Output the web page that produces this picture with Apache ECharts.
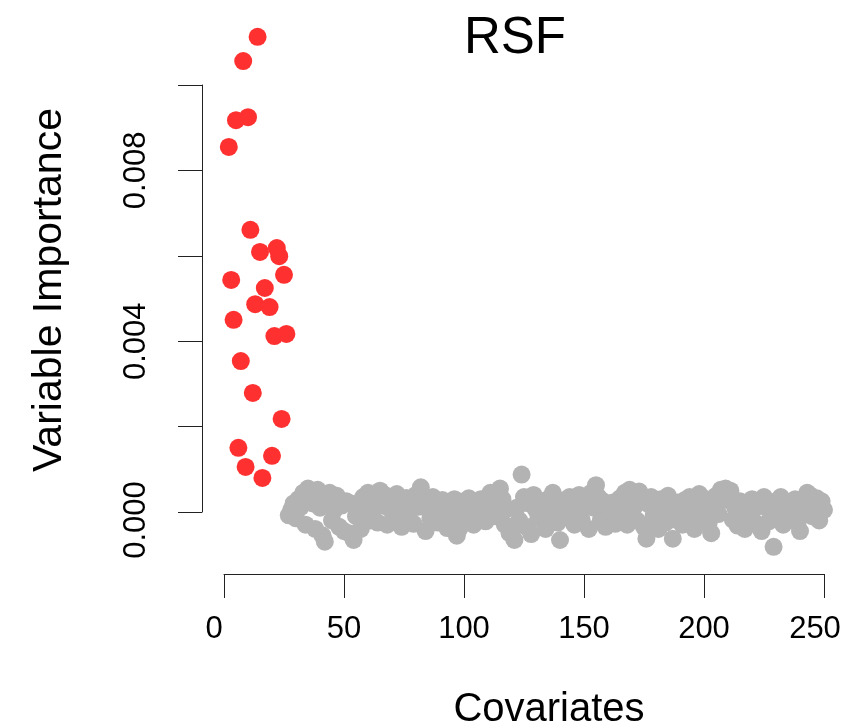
<!DOCTYPE html>
<html>
<head>
<meta charset="utf-8">
<script src="https://cdn.jsdelivr.net/npm/echarts@6/dist/echarts.min.js"></script>
<style>
html,body{margin:0;padding:0;background:#fff;}
#chart{width:846px;height:728px;}
</style>
</head>
<body>
<div id="chart"></div>
<script>
// ---- data ----
const xTicks = [0, 50, 100, 150, 200, 250];
const yTicks = [0, 0.002, 0.004, 0.006, 0.008, 0.010];
const yLabelled = ['0.000', '0.004', '0.008'];

const redX = [2,3,4,5,6,7,8,9,10,11,12,13,14,15,16,17,19,20,21,22,23,24,25,26];
const redY = [0.00859,0.00546,0.00452,0.00922,0.00151,0.00355,0.01061,0.00106,0.00929,0.00664,
              0.00280,0.00489,0.01118,0.00612,0.00080,0.00527,0.00482,0.00132,0.00414,0.00621,
              0.00602,0.00219,0.00558,0.00419];

const grayStart = 27;
const grayY = [
 -0.00008, 0.00005, 0.00020,-0.00015, 0.00030, 0.00012, 0.00045,-0.00030, 0.00055, 0.00050,
  0.00020,-0.00040, 0.00052, 0.00010,-0.00055,-0.00070, 0.00030, 0.00045,-0.00020, 0.00005,
  0.00038,-0.00035, 0.00015,-0.00045, 0.00025,-0.00050, 0.00020,-0.00066,-0.00010, 0.00010,
 -0.00040, 0.00035, 0.00005, 0.00045,-0.00020, 0.00030, 0.00010,-0.00025, 0.00050, 0.00015,
  0.00040,-0.00030, 0.00008, 0.00028,-0.00015, 0.00042, 0.00002,-0.00035, 0.00022, 0.00033,
 -0.00005, 0.00018,-0.00028, 0.00040, 0.00012, 0.00058, 0.00025,-0.00045, 0.00008,-0.00015,
  0.00035, 0.00020,-0.00025, 0.00015, 0.00028,-0.00005,-0.00038, 0.00010,-0.00020, 0.00030,
 -0.00056,-0.00040, 0.00005, 0.00025,-0.00012, 0.00032, 0.00015,-0.00030, 0.00020,-0.00008,
  0.00030, 0.00010,-0.00022, 0.00035, 0.00045, 0.00018,-0.00010, 0.00040, 0.00055, 0.00030,
 -0.00030, 0.00008,-0.00050,-0.00040,-0.00066, 0.00010,-0.00020, 0.00088, 0.00035,-0.00035,
  0.00020,-0.00052, 0.00040, 0.00005,-0.00015, 0.00025, 0.00012,-0.00040, 0.00030,-0.00005,
  0.00045, 0.00018,-0.00025,-0.00066, 0.00010, 0.00028,-0.00012, 0.00035, 0.00020,-0.00030,
  0.00005, 0.00040,-0.00018, 0.00015, 0.00030,-0.00040, 0.00045, 0.00010, 0.00063, 0.00035,
 -0.00020, 0.00025,-0.00035, 0.00008,-0.00010, 0.00022,-0.00028, 0.00015, 0.00032,-0.00005,
  0.00045,-0.00030, 0.00052, 0.00040, 0.00012,-0.00020, 0.00048, 0.00028,-0.00035,-0.00063,
  0.00018, 0.00035,-0.00010, 0.00005,-0.00040, 0.00030, 0.00010,-0.00025, 0.00038, 0.00015,
 -0.00063,-0.00018, 0.00022, 0.00005,-0.00030, 0.00028,-0.00008, 0.00035, 0.00012,-0.00040,
  0.00020, 0.00042,-0.00015, 0.00010, 0.00030,-0.00025,-0.00050, 0.00015, 0.00038,-0.00005,
  0.00052, 0.00045, 0.00055, 0.00028, 0.00050,-0.00018, 0.00010,-0.00032, 0.00025, 0.00005,
 -0.00040, 0.00020,-0.00012, 0.00030, 0.00008,-0.00028, 0.00018,-0.00045, 0.00035, 0.00010,
 -0.00022, 0.00015,-0.00082,-0.00005, 0.00028, 0.00035,-0.00030, 0.00012, 0.00020,-0.00015,
  0.00005, 0.00030,-0.00025,-0.00045, 0.00010, 0.00025, 0.00045, 0.00040,-0.00010, 0.00018,
  0.00032,-0.00020, 0.00025, 0.00005
];

const redData = redX.map((x, i) => [x, redY[i]]);
const grayData = grayY.map((y, i) => [grayStart + i, y]);

const FONT = 'Liberation Sans, Arial, sans-serif';
const chart = echarts.init(document.getElementById('chart'), null, {renderer: 'canvas'});

chart.setOption({
  backgroundColor: '#ffffff',
  animation: false,
  title: {
    text: 'RSF',
    left: 510, top: 8, textAlign: 'center',
    textStyle: {fontFamily: FONT, fontSize: 51, fontWeight: 'normal', color: '#000'}
  },
  graphic: [
    {type: 'text', x: 549, y: 710, style: {text: 'Covariates', font: '40px ' + FONT, fill: '#000', align: 'center', verticalAlign: 'middle'}},
    {type: 'text', x: 50, y: 290, rotation: Math.PI / 2, style: {text: 'Variable Importance', font: '41px ' + FONT, fill: '#000', align: 'center', verticalAlign: 'middle'}}
  ],
  grid: [
    {left: 202.4, top: 23.25, width: 643.2, height: 550.75, containLabel: false, outerBoundsMode: 'none'},
    {left: 224, top: 520, width: 600, height: 54, containLabel: false, outerBoundsMode: 'none'},
    {left: 202, top: 85, width: 10, height: 427, containLabel: false, outerBoundsMode: 'none'}
  ],
  xAxis: [
    {gridIndex: 0, type: 'value', min: -9, max: 259, show: false},
    {gridIndex: 1, type: 'value', min: xTicks[0], max: xTicks[xTicks.length - 1], interval: 50,
     position: 'bottom',
     axisLine: {show: true, onZero: false, lineStyle: {color: '#222', width: 1}},
     axisTick: {show: true, inside: false, length: 24, lineStyle: {color: '#222', width: 1}},
     splitLine: {show: false},
     axisLabel: {show: true, margin: 40, fontFamily: FONT, fontSize: 31, color: '#000', hideOverlap: false,
       formatter: function (v) {
         if (v === xTicks[0]) return '{first|' + v + '}';
         if (v === xTicks[xTicks.length - 1]) return '{last|' + v + '}';
         return String(v);
       },
       rich: {
         first: {fontFamily: FONT, fontSize: 31, color: '#000', padding: [0, 20, 0, 0]},
         last: {fontFamily: FONT, fontSize: 31, color: '#000', padding: [0, 18, 0, 0]}
       }}},
    {gridIndex: 2, type: 'value', show: false}
  ],
  yAxis: [
    {gridIndex: 0, type: 'value', min: -0.00146, max: 0.0115, show: false},
    {gridIndex: 1, type: 'value', show: false},
    {gridIndex: 2, type: 'value', min: yTicks[0], max: yTicks[yTicks.length - 1], interval: 0.002,
     position: 'left',
     axisLine: {show: true, onZero: false, lineStyle: {color: '#222', width: 1}},
     axisTick: {show: true, inside: false, length: 24, lineStyle: {color: '#222', width: 1}},
     splitLine: {show: false},
     axisLabel: {show: true, rotate: 90, margin: 50, fontFamily: FONT, fontSize: 31, color: '#000',
       formatter: function (v) {
         const s = v.toFixed(3);
         if (s === yLabelled[0]) return '{low|' + s + '}';
         return yLabelled.indexOf(s) >= 0 ? s : '';
       },
       rich: {
         low: {fontFamily: FONT, fontSize: 31, color: '#000', padding: [0, 16, 0, 0]}
       }}}
  ],
  series: [
    {type: 'scatter', xAxisIndex: 0, yAxisIndex: 0, data: grayData, symbol: 'circle', symbolSize: 18,
     itemStyle: {color: '#b3b3b3', opacity: 1}, silent: true, z: 2},
    {type: 'scatter', xAxisIndex: 0, yAxisIndex: 0, data: redData, symbol: 'circle', symbolSize: 18,
     itemStyle: {color: '#ff3030', opacity: 1}, silent: true, z: 3}
  ]
});
</script>
</body>
</html>
